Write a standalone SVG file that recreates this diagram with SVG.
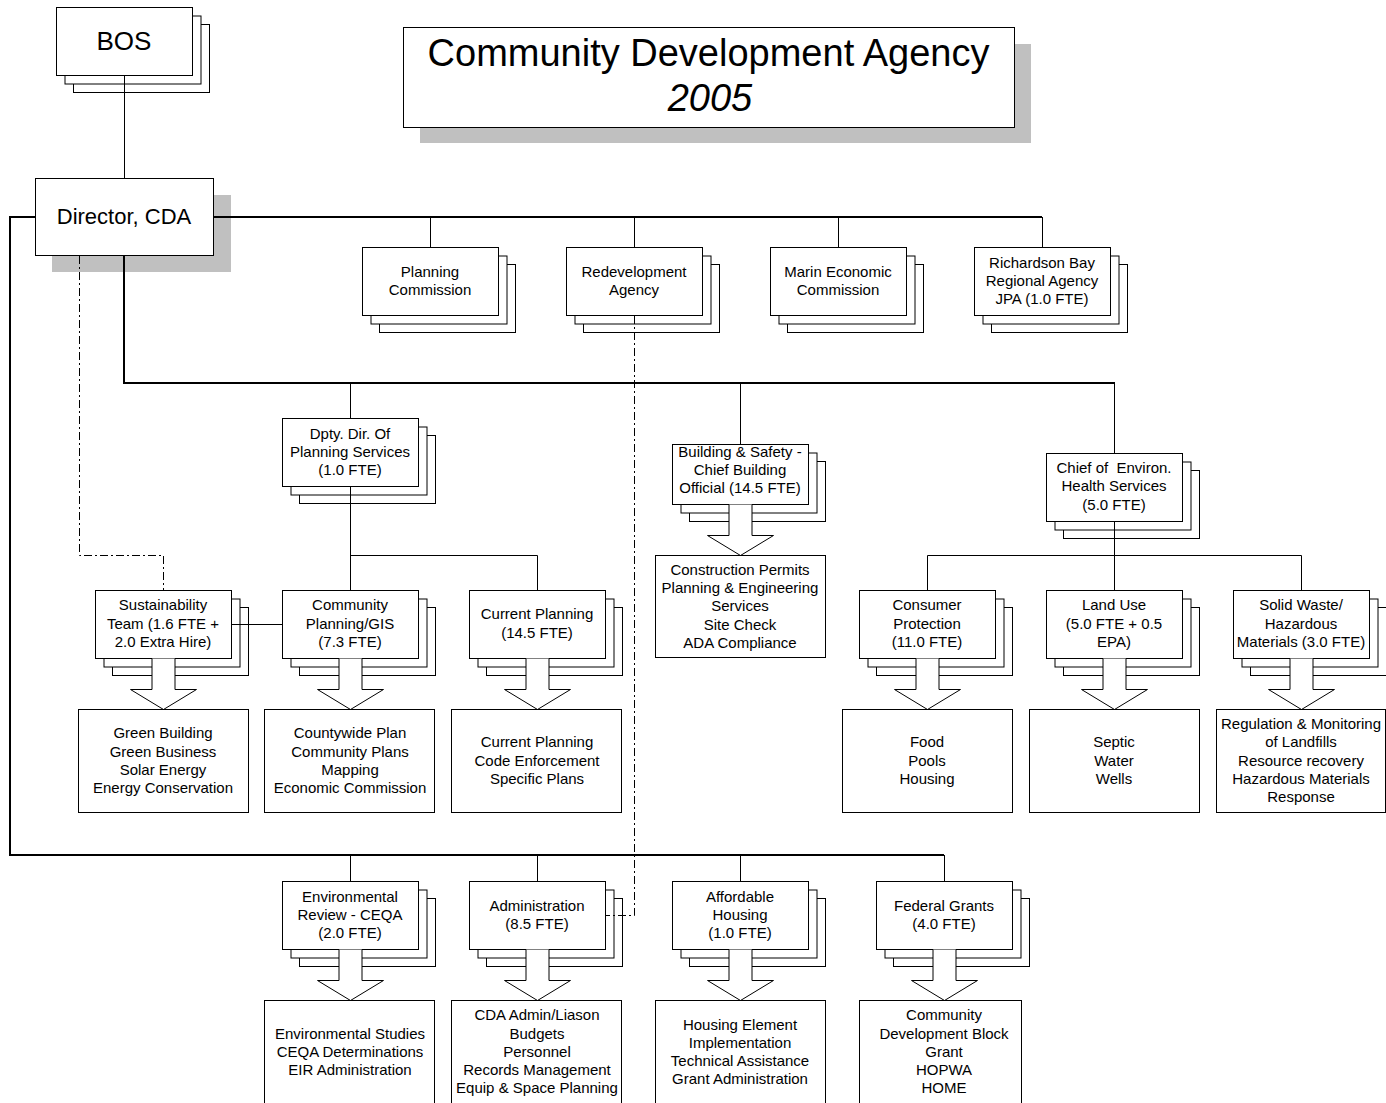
<svg xmlns="http://www.w3.org/2000/svg" xmlns:xlink="http://www.w3.org/1999/xlink" width="1386" height="1103" viewBox="0 0 1386 1103">
<style>
.b{fill:#fff;stroke:#000;stroke-width:1}
.sh{fill:#c0c0c0;stroke:none}
.t{font-family:"Liberation Sans",Arial,sans-serif;font-size:15px;text-anchor:middle;fill:#000}
.thin{stroke:#000;stroke-width:1;fill:none}
.thick{stroke:#000;stroke-width:2;fill:none}
.dd{stroke:#000;stroke-width:1;stroke-dasharray:8 3 2 3;fill:none}
.ar{fill:#fff;stroke:#000;stroke-width:1}
</style>
<defs>
<g id="stk68">
<rect class="b" x="17" y="17" width="136" height="68"/>
<rect class="b" x="8.5" y="8.5" width="136" height="68"/>
<rect class="b" x="0" y="0" width="136" height="68"/>
</g>
<g id="stk60">
<rect class="b" x="17" y="17" width="136" height="60"/>
<rect class="b" x="8.5" y="8.5" width="136" height="60"/>
<rect class="b" x="0" y="0" width="136" height="60"/>
</g>
<path id="arr" class="ar" d="M-11.5,0 V31 H-33 L0,51 L33,31 H11.5 V0"/>
</defs>

<g id="title">
<rect class="sh" x="420" y="44" width="611" height="99"/>
<rect class="b" x="403.5" y="27.5" width="611" height="100"/>
<text class="t" x="708.5" y="66" style="font-size:38px">Community Development Agency</text>
<text class="t" x="710" y="111" style="font-size:38px;font-style:italic">2005</text>
</g>

<g id="bos">
<use xlink:href="#stk68" transform="translate(56.5,7.5)"/>
<text class="t" x="124" y="49.5" style="font-size:26px">BOS</text>
</g>

<g id="director">
<rect class="sh" x="52" y="195" width="179" height="77"/>
<rect class="b" x="35.5" y="178.5" width="178" height="77"/>
<text class="t" x="124" y="224" style="font-size:22px">Director, CDA</text>
</g>

<g id="planning-commission">
<use xlink:href="#stk68" transform="translate(362.5,247.5)"/>
<text class="t" x="430" y="276.5">Planning</text>
<text class="t" x="430" y="294.5">Commission</text>
</g>
<g id="redevelopment-agency">
<use xlink:href="#stk68" transform="translate(566.5,247.5)"/>
<text class="t" x="634" y="276.5">Redevelopment</text>
<text class="t" x="634" y="294.5">Agency</text>
</g>
<g id="marin-economic">
<use xlink:href="#stk68" transform="translate(770.5,247.5)"/>
<text class="t" x="838" y="276.5">Marin Economic</text>
<text class="t" x="838" y="294.5">Commission</text>
</g>
<g id="richardson-bay">
<use xlink:href="#stk68" transform="translate(974.5,247.5)"/>
<text class="t" x="1042" y="267.5">Richardson Bay</text>
<text class="t" x="1042" y="285.5">Regional Agency</text>
<text class="t" x="1042" y="303.5">JPA (1.0 FTE)</text>
</g>

<g id="dpty-dir">
<use xlink:href="#stk68" transform="translate(282.5,418.5)"/>
<text class="t" x="350" y="438.5">Dpty. Dir. Of</text>
<text class="t" x="350" y="456.5">Planning Services</text>
<text class="t" x="350" y="475">(1.0 FTE)</text>
</g>

<g id="building-safety">
<use xlink:href="#stk60" transform="translate(672.5,444.5)"/>
<use xlink:href="#arr" transform="translate(740.5,504.5)"/>
<text class="t" x="740" y="456.5">Building &amp; Safety -</text>
<text class="t" x="740" y="474.5">Chief Building</text>
<text class="t" x="740" y="493">Official (14.5 FTE)</text>
</g>
<g id="building-duties">
<rect class="b" x="655.5" y="555.5" width="170" height="102"/>
<text class="t" x="740" y="574.5">Construction Permits</text>
<text class="t" x="740" y="592.5">Planning &amp; Engineering</text>
<text class="t" x="740" y="610.5">Services</text>
<text class="t" x="740" y="629.5">Site Check</text>
<text class="t" x="740" y="647.5">ADA Compliance</text>
</g>

<g id="chief-env-health">
<use xlink:href="#stk68" transform="translate(1046.5,453.5)"/>
<text class="t" x="1114" y="472.5">Chief of&#160; Environ.</text>
<text class="t" x="1114" y="491">Health Services</text>
<text class="t" x="1114" y="509.5">(5.0 FTE)</text>
</g>

<g id="sustainability">
<use xlink:href="#stk68" transform="translate(95.5,590.5)"/>
<use xlink:href="#arr" transform="translate(163.5,658.5)"/>
<text class="t" x="163" y="609.5">Sustainability</text>
<text class="t" x="163" y="628.5">Team (1.6 FTE +</text>
<text class="t" x="163" y="646.5">2.0 Extra Hire)</text>
</g>
<g id="sustainability-duties">
<rect class="b" x="78.5" y="709.5" width="170" height="103"/>
<text class="t" x="163" y="737.5">Green Building</text>
<text class="t" x="163" y="756.5">Green Business</text>
<text class="t" x="163" y="774.5">Solar Energy</text>
<text class="t" x="163" y="792.5">Energy Conservation</text>
</g>

<g id="community-planning">
<use xlink:href="#stk68" transform="translate(282.5,590.5)"/>
<use xlink:href="#arr" transform="translate(350.5,658.5)"/>
<text class="t" x="350" y="609.5">Community</text>
<text class="t" x="350" y="628.5">Planning/GIS</text>
<text class="t" x="350" y="646.5">(7.3 FTE)</text>
</g>
<g id="community-planning-duties">
<rect class="b" x="264.5" y="709.5" width="170" height="103"/>
<text class="t" x="350" y="737.5">Countywide Plan</text>
<text class="t" x="350" y="756.5">Community Plans</text>
<text class="t" x="350" y="774.5">Mapping</text>
<text class="t" x="350" y="792.5">Economic Commission</text>
</g>

<g id="current-planning">
<use xlink:href="#stk68" transform="translate(469.5,590.5)"/>
<use xlink:href="#arr" transform="translate(537.5,658.5)"/>
<text class="t" x="537" y="618.5">Current Planning</text>
<text class="t" x="537" y="637.5">(14.5 FTE)</text>
</g>
<g id="current-planning-duties">
<rect class="b" x="451.5" y="709.5" width="170" height="103"/>
<text class="t" x="537" y="746.5">Current Planning</text>
<text class="t" x="537" y="765.5">Code Enforcement</text>
<text class="t" x="537" y="783.5">Specific Plans</text>
</g>

<g id="consumer-protection">
<use xlink:href="#stk68" transform="translate(859.5,590.5)"/>
<use xlink:href="#arr" transform="translate(927.5,658.5)"/>
<text class="t" x="927" y="609.5">Consumer</text>
<text class="t" x="927" y="628.5">Protection</text>
<text class="t" x="927" y="646.5">(11.0 FTE)</text>
</g>
<g id="consumer-duties">
<rect class="b" x="842.5" y="709.5" width="170" height="103"/>
<text class="t" x="927" y="746.5">Food</text>
<text class="t" x="927" y="765.5">Pools</text>
<text class="t" x="927" y="783.5">Housing</text>
</g>

<g id="land-use">
<use xlink:href="#stk68" transform="translate(1046.5,590.5)"/>
<use xlink:href="#arr" transform="translate(1114.5,658.5)"/>
<text class="t" x="1114" y="609.5">Land Use</text>
<text class="t" x="1114" y="628.5">(5.0 FTE + 0.5</text>
<text class="t" x="1114" y="646.5">EPA)</text>
</g>
<g id="land-use-duties">
<rect class="b" x="1029.5" y="709.5" width="170" height="103"/>
<text class="t" x="1114" y="746.5">Septic</text>
<text class="t" x="1114" y="765.5">Water</text>
<text class="t" x="1114" y="783.5">Wells</text>
</g>

<g id="solid-waste">
<use xlink:href="#stk68" transform="translate(1233.5,590.5)"/>
<use xlink:href="#arr" transform="translate(1301.5,658.5)"/>
<text class="t" x="1301" y="609.5">Solid Waste/</text>
<text class="t" x="1301" y="628.5">Hazardous</text>
<text class="t" x="1301" y="646.5">Materials (3.0 FTE)</text>
</g>
<g id="solid-waste-duties">
<rect class="b" x="1216.5" y="709.5" width="169" height="103"/>
<text class="t" x="1301" y="728.5">Regulation &amp; Monitoring</text>
<text class="t" x="1301" y="746.5">of Landfills</text>
<text class="t" x="1301" y="765.5">Resource recovery</text>
<text class="t" x="1301" y="783.5">Hazardous Materials</text>
<text class="t" x="1301" y="801.5">Response</text>
</g>

<g id="environmental-review">
<use xlink:href="#stk68" transform="translate(282.5,881.5)"/>
<use xlink:href="#arr" transform="translate(350.5,949.5)"/>
<text class="t" x="350" y="901.5">Environmental</text>
<text class="t" x="350" y="919.5">Review - CEQA</text>
<text class="t" x="350" y="937.5">(2.0 FTE)</text>
</g>
<g id="environmental-duties">
<rect class="b" x="264.5" y="1000.5" width="170" height="110"/>
<text class="t" x="350" y="1038.5">Environmental Studies</text>
<text class="t" x="350" y="1056.5">CEQA Determinations</text>
<text class="t" x="350" y="1074.5">EIR Administration</text>
</g>

<g id="administration">
<use xlink:href="#stk68" transform="translate(469.5,881.5)"/>
<use xlink:href="#arr" transform="translate(537.5,949.5)"/>
<text class="t" x="537" y="910.5">Administration</text>
<text class="t" x="537" y="928.5">(8.5 FTE)</text>
</g>
<g id="administration-duties">
<rect class="b" x="451.5" y="1000.5" width="170" height="110"/>
<text class="t" x="537" y="1019.5">CDA Admin/Liason</text>
<text class="t" x="537" y="1038.5">Budgets</text>
<text class="t" x="537" y="1056.5">Personnel</text>
<text class="t" x="537" y="1074.5">Records Management</text>
<text class="t" x="537" y="1092.5">Equip &amp; Space Planning</text>
</g>

<g id="affordable-housing">
<use xlink:href="#stk68" transform="translate(672.5,881.5)"/>
<use xlink:href="#arr" transform="translate(740.5,949.5)"/>
<text class="t" x="740" y="901.5">Affordable</text>
<text class="t" x="740" y="919.5">Housing</text>
<text class="t" x="740" y="937.5">(1.0 FTE)</text>
</g>
<g id="affordable-duties">
<rect class="b" x="655.5" y="1000.5" width="170" height="110"/>
<text class="t" x="740" y="1029.5">Housing Element</text>
<text class="t" x="740" y="1047.5">Implementation</text>
<text class="t" x="740" y="1065.5">Technical Assistance</text>
<text class="t" x="740" y="1083.5">Grant Administration</text>
</g>

<g id="federal-grants">
<use xlink:href="#stk68" transform="translate(876.5,881.5)"/>
<use xlink:href="#arr" transform="translate(944.5,949.5)"/>
<text class="t" x="944" y="910.5">Federal Grants</text>
<text class="t" x="944" y="928.5">(4.0 FTE)</text>
</g>
<g id="federal-duties">
<rect class="b" x="859.5" y="1000.5" width="162" height="110"/>
<text class="t" x="944" y="1019.5">Community</text>
<text class="t" x="944" y="1038.5">Development Block</text>
<text class="t" x="944" y="1056.5">Grant</text>
<text class="t" x="944" y="1074.5">HOPWA</text>
<text class="t" x="944" y="1092.5">HOME</text>
</g>

<g id="connectors">
<path class="thin" d="M124.5,75.5 V178.5"/>
<path class="thick" d="M35,217 H10 V855 H944"/>
<path class="thick" d="M213,217 H1042"/>
<path class="thin" d="M430.5,217 V247.5 M634.5,217 V247.5 M838.5,217 V247.5 M1042.5,217 V247.5"/>
<path class="thick" d="M124,255 V383 H1115"/>
<path class="thin" d="M350.5,383 V418.5 M740.5,383 V444.5 M1114.5,383 V453.5"/>
<path class="thin" d="M350.5,486.5 V590.5 M350.5,555.5 H537.5 V590.5"/>
<path class="thin" d="M231.5,624.5 H282.5"/>
<path class="thin" d="M1114.5,521.5 V590.5 M927.5,590.5 V555.5 H1301.5 V590.5"/>
<path class="thin" d="M350.5,855 V881.5 M537.5,855 V881.5 M740.5,855 V881.5 M944.5,855 V881.5"/>
<path class="dd" d="M79.5,256 V555.5 H163.5 V590.5"/>
<path class="dd" d="M634.5,316 V915.5 H605.5"/>
</g>
</svg>
